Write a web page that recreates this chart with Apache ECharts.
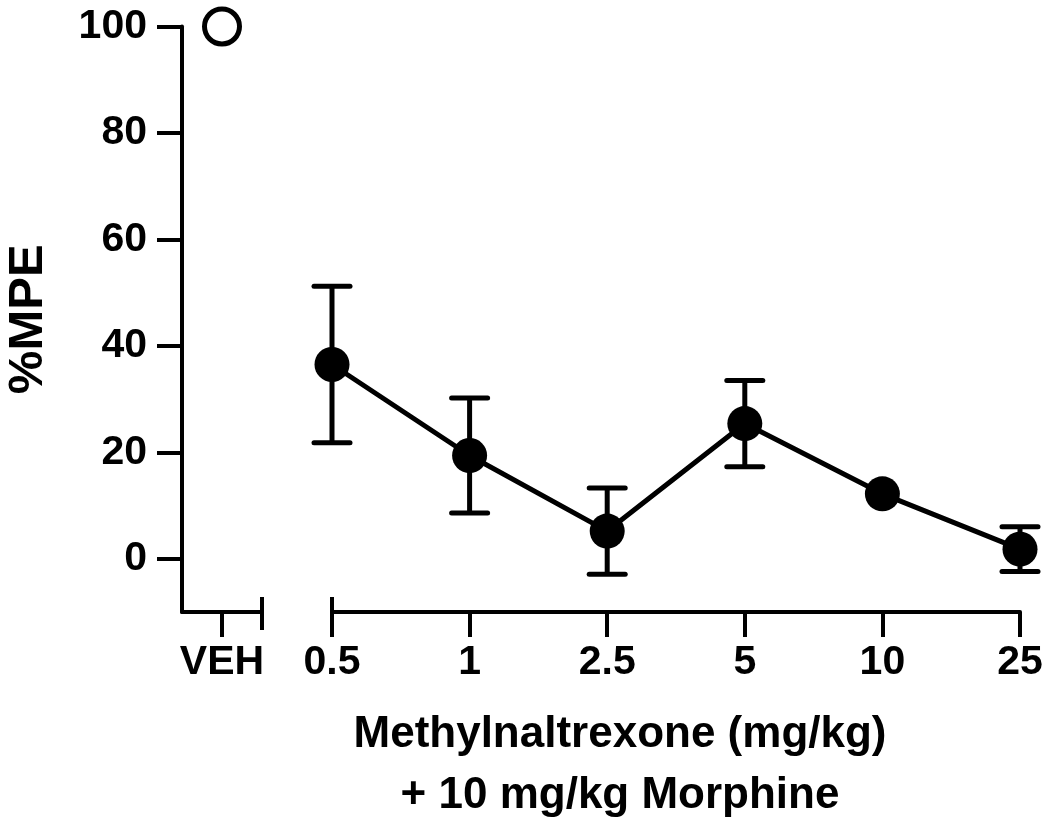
<!DOCTYPE html>
<html>
<head>
<meta charset="utf-8">
<script src="https://cdn.jsdelivr.net/npm/echarts@6/dist/echarts.min.js"></script>
<style>html,body{margin:0;padding:0;background:#fff;}#c{width:1050px;height:820px;}</style>
</head>
<body>
<div id="c"></div>
<script>
const categories = ['0.5', '1', '2.5', '5', '10', '25'];
const mpeMean = [36.5, 19.4, 5.2, 25.4, 12.2, 1.8];
const mpeSem = [14.7, 10.8, 8.1, 8.1, 1.5, 4.2];
const vehLabel = 'VEH';
const vehMean = 100;
const yTicks = [0, 20, 40, 60, 80, 100];

const FONT = '"Liberation Sans", Arial, Helvetica, sans-serif';
const black = '#000';
const lineW = 4;
const markerSize = 35;

const chart = echarts.init(document.getElementById('c'), null, {renderer: 'canvas'});

const labelStyle = {color: black, fontFamily: FONT, fontWeight: 'bold', fontSize: 41};

const option = {
  animation: false,
  backgroundColor: '#fff',
  grid: [
    {left: 182, top: 26.5, width: 80, height: 585.5, outerBoundsMode: 'none', containLabel: false},
    {left: 332, top: 26.5, width: 688, height: 585.5, outerBoundsMode: 'none', containLabel: false}
  ],
  xAxis: [
    {
      gridIndex: 0, type: 'value', min: 0, max: 2, position: 'bottom', offset: 0,
      splitLine: {show: false},
      axisLine: {show: true, onZero: false, lineStyle: {color: black, width: lineW}},
      axisTick: {show: true, length: 25, customValues: [1], lineStyle: {color: black, width: lineW}},
      axisLabel: Object.assign({show: true, margin: 30, customValues: [1], formatter: () => vehLabel}, labelStyle)
    },
    {
      gridIndex: 0, type: 'value', min: 0, max: 2, position: 'bottom', offset: 0,
      splitLine: {show: false}, axisLine: {show: false, onZero: false}, axisLabel: {show: false},
      axisTick: {show: true, inside: true, length: 15, customValues: [2], lineStyle: {color: black, width: lineW}}
    },
    {
      gridIndex: 0, type: 'value', min: 0, max: 2, position: 'bottom', offset: 0,
      splitLine: {show: false}, axisLine: {show: false, onZero: false}, axisLabel: {show: false},
      axisTick: {show: true, inside: false, length: 18, customValues: [2], lineStyle: {color: black, width: lineW}}
    },
    {
      gridIndex: 1, type: 'category', data: categories, boundaryGap: false, position: 'bottom', offset: 0,
      splitLine: {show: false},
      axisLine: {show: true, onZero: false, lineStyle: {color: black, width: lineW}},
      axisTick: {show: true, length: 25, interval: 0, lineStyle: {color: black, width: lineW}},
      axisLabel: Object.assign({show: true, margin: 30, interval: 0}, labelStyle),
      name: 'Methylnaltrexone (mg/kg)\n+ 10 mg/kg Morphine',
      nameLocation: 'middle',
      nameGap: 92,
      nameTextStyle: {color: black, fontFamily: FONT, fontWeight: 'bold', fontSize: 44, lineHeight: 61, padding: [0, 112, 0, 0], align: 'center'}
    },
    {
      gridIndex: 1, type: 'category', data: categories, boundaryGap: false, position: 'bottom', offset: 0,
      splitLine: {show: false}, axisLine: {show: false, onZero: false}, axisLabel: {show: false},
      axisTick: {show: true, inside: true, length: 15, interval: (i) => i === 0, lineStyle: {color: black, width: lineW}}
    }
  ],
  yAxis: [
    {
      gridIndex: 0, type: 'value', min: -10, max: 100, position: 'left',
      splitLine: {show: false},
      axisLine: {show: true, onZero: false, lineStyle: {color: black, width: lineW}},
      axisTick: {show: true, length: 25, customValues: yTicks, lineStyle: {color: black, width: lineW}},
      axisLabel: Object.assign({show: true, margin: 35, customValues: yTicks}, labelStyle),
      name: '%MPE',
      nameLocation: 'middle',
      nameRotate: 90,
      nameGap: 129,
      nameTextStyle: {color: black, fontFamily: FONT, fontWeight: 'bold', fontSize: 49}
    },
    {
      gridIndex: 1, type: 'value', min: -10, max: 100, show: false, splitLine: {show: false},
      axisLine: {onZero: false}
    }
  ],
  series: [
    {
      type: 'scatter', xAxisIndex: 0, yAxisIndex: 0,
      data: [[1, vehMean]],
      symbol: 'circle', symbolSize: 35,
      itemStyle: {color: '#fff', borderColor: black, borderWidth: 5, opacity: 1},
      emphasis: {disabled: true},
      z: 5
    },
    {
      type: 'custom', xAxisIndex: 3, yAxisIndex: 1,
      data: categories.map((c, i) => [i, mpeMean[i] - mpeSem[i], mpeMean[i] + mpeSem[i], mpeMean[i]]),
      renderItem: function (params, api) {
        const x = api.value(0);
        const lo = api.coord([x, api.value(1)]);
        const hi = api.coord([x, api.value(2)]);
        const hw = 18;
        // error bars shorter than the symbol radius stay hidden behind the symbol (as in the original)
        if (Math.abs(lo[1] - hi[1]) / 2 < markerSize / 2) {
          return {type: 'group', children: []};
        }
        const st = {stroke: black, lineWidth: 5, lineCap: 'round'};
        return {
          type: 'group',
          children: [
            {type: 'line', shape: {x1: lo[0], y1: lo[1], x2: hi[0], y2: hi[1]}, style: {stroke: black, lineWidth: 5}},
            {type: 'line', shape: {x1: lo[0] - hw, y1: lo[1], x2: lo[0] + hw, y2: lo[1]}, style: st},
            {type: 'line', shape: {x1: hi[0] - hw, y1: hi[1], x2: hi[0] + hw, y2: hi[1]}, style: st}
          ]
        };
      },
      z: 3
    },
    {
      type: 'line', xAxisIndex: 3, yAxisIndex: 1,
      data: mpeMean,
      symbol: 'circle', symbolSize: markerSize, showAllSymbol: true,
      lineStyle: {color: black, width: 5},
      itemStyle: {color: black, borderColor: black, borderWidth: 0},
      emphasis: {disabled: true},
      z: 4
    }
  ]
};
chart.setOption(option);
</script>
</body>
</html>
